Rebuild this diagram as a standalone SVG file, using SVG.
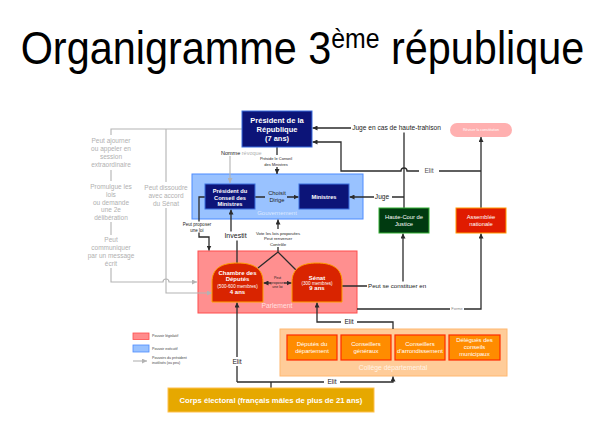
<svg xmlns="http://www.w3.org/2000/svg" width="610" height="426" viewBox="0 0 610 426">
<defs>
<marker id="ab" viewBox="0 0 10 10" refX="10" refY="5" markerWidth="5" markerHeight="5" orient="auto-start-reverse" markerUnits="userSpaceOnUse"><path d="M0,0 L10,5 L0,10 z" fill="#2b2b2b"/></marker>
<marker id="ag" viewBox="0 0 10 10" refX="10" refY="5" markerWidth="5" markerHeight="5" orient="auto" markerUnits="userSpaceOnUse"><path d="M0,0 L10,5 L0,10 z" fill="#b3b3b3"/></marker>
<style>
text{font-family:"Liberation Sans",Arial,sans-serif}
.c{fill:none;stroke:#2b2b2b;stroke-width:1.3}
.g{fill:none;stroke:#b3b3b3;stroke-width:1.1}
.lb{fill:#fff}
.t{fill:#222;text-anchor:middle}
.gt{fill:#b0b0b0;text-anchor:middle;font-size:6.5px}
.w{fill:#fff;text-anchor:middle}
.navy{fill:#0c1478;stroke:#3b6fe0;stroke-width:1}
.dome{fill:#d92400;stroke:#ffa000;stroke-width:1}
.col{fill:#ff8c00;stroke:#ff2a00;stroke-width:1.2}
.lg{fill:#444;font-size:3.6px}
</style>
</defs>
<rect width="610" height="426" fill="#fff"/>
<text transform="translate(302.5,64) scale(0.9,1)" x="0" y="0" font-size="46" text-anchor="middle" fill="#000">Organigramme 3<tspan font-size="27.6" dy="-16.5">ème</tspan><tspan dy="16.5"> république</tspan></text>

<g id="gouvernement"><rect x="192" y="174" width="171" height="45" fill="#99c2ff" stroke="#4d8cff" stroke-width="1"/><text x="277" y="215" font-size="6" fill="#dce9ff" text-anchor="middle">Gouvernement</text></g>
<g id="parlement"><rect x="198" y="251" width="159" height="62" fill="#ff8f8f" stroke="#ff4d4d" stroke-width="1"/><text x="277" y="308.4" font-size="6.8" fill="#ffe0e0" text-anchor="middle">Parlement</text></g>
<g id="college"><rect x="280" y="329" width="227" height="47" fill="#ffcc99" stroke="#ffb870" stroke-width="1"/><text x="393" y="370.4" font-size="6.8" fill="#fff3e6" text-anchor="middle">Collège départemental</text></g>

<g id="connectors">
<path class="g" d="M242,129 H111 V282 H163 a3,3 0 0 1 6,0 H197" marker-end="url(#ag)"/>
<path class="g" d="M166,129 V293 H212" marker-end="url(#ag)"/>
<path class="g" d="M230,156 V183" marker-end="url(#ag)"/>
<path class="c" d="M277,147 V174" marker-end="url(#ab)"/>
<path class="c" d="M255,197 H265 M287,197 H298.5" marker-end="url(#ab)"/>
<path class="c" d="M404,197 H349.5" marker-end="url(#ab)"/>
<path class="c" d="M404,208 V128 H312.5" marker-end="url(#ab)"/>
<path class="c" d="M481,171 H407 a3,3 0 0 0 -6,0 H341 V142 H312.5" marker-end="url(#ab)"/>
<path class="c" d="M481,208 V137" marker-end="url(#ab)"/>
<path class="c" d="M342,286 H403 V233.5" marker-end="url(#ab)"/>
<path class="c" d="M357,309 H481 V233.5" marker-end="url(#ab)"/>
<path class="c" d="M237,263 V237 H231 V209.5" marker-end="url(#ab)"/>
<path class="c" d="M258,268 L278,252 L296,270 M278,252 V219.5" marker-end="url(#ab)"/>
<path class="c" d="M205,197 H199 V237 H209 V250.5" marker-end="url(#ab)"/>
<path class="c" d="M263.5,283 H271" marker-start="url(#ab)"/>
<path class="c" d="M284,283 H291.5" marker-end="url(#ab)"/>
<path class="c" d="M237,382 V302.5" marker-end="url(#ab)"/>
<path class="c" d="M237,382 H393 V376.5" marker-end="url(#ab)"/>
<path class="c" d="M271,388 V382"/>
<path class="c" d="M393,329 V322 H317 V302.5" marker-end="url(#ab)"/>
<rect class="lb" x="86" y="135" width="50" height="35"/>
<rect class="lb" x="86" y="181" width="50" height="41"/>
<rect class="lb" x="86" y="235" width="50" height="33"/>
<rect class="lb" x="142" y="182" width="48" height="26"/>
<text class="gt"><tspan x="111" y="143.3">Peut ajourner</tspan><tspan x="111" y="151.3">ou appeler en</tspan><tspan x="111" y="159.3">session</tspan><tspan x="111" y="167.3">extraordinaire</tspan></text>
<text class="gt"><tspan x="111" y="189.3">Promulgue les</tspan><tspan x="111" y="197.3">lois</tspan><tspan x="111" y="205.3">ou demande</tspan><tspan x="111" y="212.3">une 2e</tspan><tspan x="111" y="220.3">délibération</tspan></text>
<text class="gt"><tspan x="111" y="242.3">Peut</tspan><tspan x="111" y="250.3">communiquer</tspan><tspan x="111" y="258.3">par un message</tspan><tspan x="111" y="266.3">écrit</tspan></text>
<text class="gt"><tspan x="166" y="190.3">Peut dissoudre</tspan><tspan x="166" y="198.3">avec accord</tspan><tspan x="166" y="206.3">du Sénat</tspan></text>
<rect class="lb" x="219" y="149" width="45" height="7"/>
<text x="221" y="155" font-size="5.5" fill="#222">Nomme <tspan fill="#b0b0b0">révoque</tspan></text>
<rect class="lb" x="257" y="155" width="38" height="12"/>
<text class="t" font-size="4"><tspan x="276" y="160.4">Préside le Conseil</tspan><tspan x="276" y="166.2">des Ministres</tspan></text>
<text class="t" font-size="5.8"><tspan x="277" y="195">Choisit</tspan><tspan x="277" y="202">Dirige</tspan></text>
<rect class="lb" x="374" y="193" width="18" height="8"/>
<text x="382" y="199.3" font-size="6.6" class="t">Juge</text>
<rect class="lb" x="351" y="123.5" width="91" height="9"/>
<text x="396.5" y="130.3" font-size="6.6" class="t">Juge en cas de haute-trahison</text>
<rect class="lb" x="419" y="167" width="20" height="8"/>
<text x="429" y="173.3" font-size="6.6" fill="#555" text-anchor="middle">Elit</text>
<rect class="lb" x="367" y="281.5" width="64" height="9"/>
<text x="368" y="288.2" font-size="6.2" fill="#222">Peut se constituer en</text>
<rect class="lb" x="450" y="306.5" width="14" height="5"/>
<text x="457" y="310.4" font-size="4" fill="#888" text-anchor="middle">Forme</text>
<rect class="lb" x="223" y="231.5" width="25" height="9"/>
<text x="235.5" y="238.4" font-size="7" class="t">Investit</text>
<rect class="lb" x="254" y="229" width="48" height="18"/>
<text class="t" font-size="4.3"><tspan x="278" y="234.5">Vote les lois proposées</tspan><tspan x="278" y="240">Peut renverser</tspan><tspan x="278" y="245.5">Contrôle</tspan></text>
<rect class="lb" x="183" y="221.5" width="29" height="11"/>
<text class="t" font-size="4.5"><tspan x="197" y="226.3">Peut proposer</tspan><tspan x="197" y="231.5">une loi</tspan></text>
<text class="t" font-size="3.5"><tspan x="277.5" y="279.2">Peut</tspan><tspan x="277.5" y="284.2">proposer</tspan><tspan x="277.5" y="288.2">une loi</tspan></text>
<rect class="lb" x="229" y="357" width="16" height="9"/>
<text x="237" y="364.4" font-size="6.6" class="t">Elit</text>
<rect class="lb" x="324" y="378" width="16" height="8"/>
<text x="332" y="384.4" font-size="6.6" class="t">Elit</text>
<rect class="lb" x="341" y="318" width="16" height="8"/>
<text x="349" y="324.4" font-size="6.6" class="t">Elit</text>
</g>

<g id="president"><rect class="navy" x="242" y="111" width="70" height="36"/><text class="w" font-size="7.5" font-weight="bold"><tspan x="277" y="122.6">Président de la</tspan><tspan x="277" y="131.6">République</tspan><tspan x="277" y="140.6">(7 ans)</tspan></text></g>
<g id="pcm"><rect class="navy" x="205" y="184" width="50" height="25"/><text class="w" font-size="5.7" font-weight="bold"><tspan x="230" y="193">Président du</tspan><tspan x="230" y="199.5">Conseil des</tspan><tspan x="230" y="206">Ministres</tspan></text></g>
<g id="ministres"><rect class="navy" x="299" y="184" width="50" height="25"/><text class="w" font-size="5.7" font-weight="bold" x="324" y="199">Ministres</text></g>
<g id="chambre"><path class="dome" d="M212,302 V282 C212,268 222,263 237.5,263 C253,263 263,268 263,282 V302 Z"/><text class="w" font-weight="bold"><tspan x="237.5" y="275" font-size="6">Chambre des</tspan><tspan x="237.5" y="281" font-size="6">Députés</tspan><tspan x="237.5" y="287.6" font-size="4.6" font-weight="normal">(500-600 membres)</tspan><tspan x="237.5" y="294" font-size="6">4 ans</tspan></text></g>
<g id="senat"><path class="dome" d="M292,302 V282 C292,268 302,263 317,263 C332,263 342,268 342,282 V302 Z"/><text class="w" font-weight="bold"><tspan x="317" y="279.8" font-size="6">Sénat</tspan><tspan x="317" y="284.6" font-size="4.6" font-weight="normal">(300 membres)</tspan><tspan x="317" y="290.4" font-size="6">9 ans</tspan></text></g>
<g id="hautecour"><rect x="379" y="208" width="50" height="25" fill="#003a10" stroke="#33b033" stroke-width="1"/><text class="w" font-size="5.8"><tspan x="404" y="219">Haute-Cour de</tspan><tspan x="404" y="225.5">Justice</tspan></text></g>
<g id="assemblee"><rect x="456" y="208" width="50" height="25" fill="#e01b00" stroke="#ff9a00" stroke-width="1"/><text class="w" font-size="5.8"><tspan x="481" y="219">Assemblée</tspan><tspan x="481" y="225.5">nationale</tspan></text></g>
<g id="reviser"><rect x="450" y="123" width="62" height="14" rx="7" fill="#ffb0b0"/><text class="w" font-size="3.7" x="481" y="131.3">Réviser la constitution</text></g>
<g id="deputes-dep"><rect class="col" x="287" y="335" width="50" height="25"/><text class="w" font-size="6"><tspan x="312" y="346">Députés du</tspan><tspan x="312" y="353">département</tspan></text></g>
<g id="cons-gen"><rect class="col" x="341" y="335" width="50" height="25"/><text class="w" font-size="6"><tspan x="366" y="346">Conseillers</tspan><tspan x="366" y="353">généraux</tspan></text></g>
<g id="cons-arr"><rect class="col" x="395" y="335" width="50" height="25"/><text class="w" font-size="6"><tspan x="420" y="346">Conseillers</tspan><tspan x="420" y="353">d'arrondissement</tspan></text></g>
<g id="delegues"><rect class="col" x="449" y="335" width="51" height="25"/><text class="w" font-size="6"><tspan x="474.5" y="342">Délégués des</tspan><tspan x="474.5" y="349">conseils</tspan><tspan x="474.5" y="356">municipaux</tspan></text></g>
<g id="corps"><rect x="168" y="388" width="206" height="24" fill="#e6a800" stroke="#ffc04d" stroke-width="1"/><text class="w" font-size="7.7" font-weight="bold" x="271" y="402.7">Corps électoral (français mâles de plus de 21 ans)</text></g>

<g id="legende">
<rect x="133" y="333" width="16" height="6.5" fill="#ff8c8c" stroke="#ff4d4d" stroke-width="0.8"/>
<text class="lg" x="152" y="337.3">Pouvoir législatif</text>
<rect x="133" y="345" width="16" height="7" fill="#99c2ff" stroke="#4d8cff" stroke-width="0.8"/>
<text class="lg" x="152" y="349.5">Pouvoir exécutif</text>
<path class="g" d="M133,361 H147" marker-end="url(#ag)"/>
<text class="lg"><tspan x="152" y="359">Pouvoirs du président</tspan><tspan x="152" y="364">inutilisés (ou peu)</tspan></text>
</g>
</svg>
